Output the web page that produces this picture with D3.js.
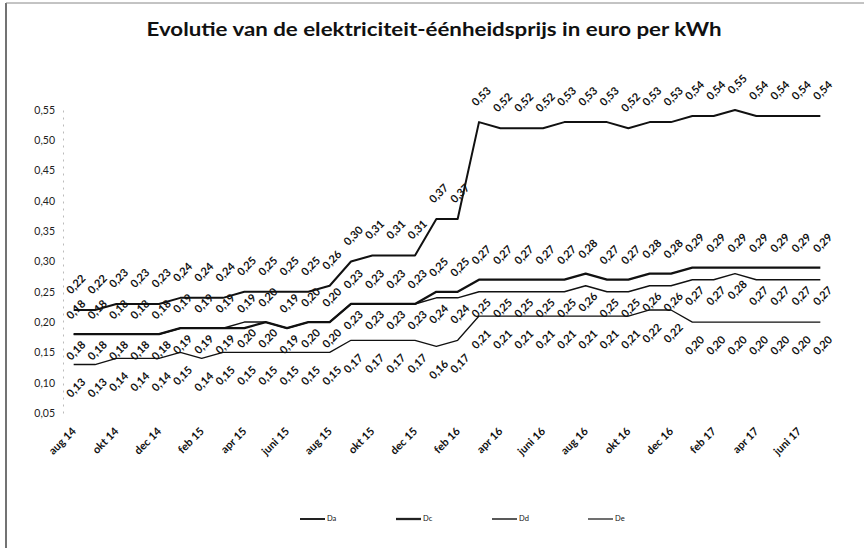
<!DOCTYPE html>
<html lang="nl">
<head>
    <meta charset="UTF-8">
    <title>Evolutie elektriciteit-éénheidsprijs</title>
    <script src="https://d3js.org/d3.v7.min.js"></script>
    <style>
        body { margin: 0; background: #fff; }
        svg { display: block; font-family: Lato, "Liberation Sans", sans-serif; }
    </style>
</head>
<body>
    <svg id="chart" width="864" height="548"></svg>

    <script>
        // months (only every other one gets a label on the axis)
        const months = [
            "aug 14", "sep 14", "okt 14", "nov 14", "dec 14",
            "jan 15", "feb 15", "mrt 15", "apr 15", "mei 15", "juni 15", "juli 15",
            "aug 15", "sep 15", "okt 15", "nov 15", "dec 15",
            "jan 16", "feb 16", "mrt 16", "apr 16", "mei 16", "juni 16", "juli 16",
            "aug 16", "sep 16", "okt 16", "nov 16", "dec 16",
            "jan 17", "feb 17", "mrt 17", "apr 17", "mei 17", "juni 17", "juli 17"
        ];

        const yTicks = [0.05, 0.10, 0.15, 0.20, 0.25, 0.30, 0.35, 0.40, 0.45, 0.50, 0.55];

        const seriesNames = ["Da", "Dc", "Dd", "De"];

        const Da = [0.22, 0.22, 0.23, 0.23, 0.23,
            0.24, 0.24, 0.24, 0.25, 0.25, 0.25, 0.25, 0.26, 0.30, 0.31, 0.31, 0.31,
            0.37, 0.37, 0.53, 0.52, 0.52, 0.52, 0.53, 0.53, 0.53, 0.52, 0.53, 0.53,
            0.54, 0.54, 0.55, 0.54, 0.54, 0.54, 0.54];

        const Dc = [0.18, 0.18, 0.18, 0.18, 0.18,
            0.19, 0.19, 0.19, 0.19, 0.20, 0.19, 0.20, 0.20, 0.23, 0.23, 0.23, 0.23,
            0.25, 0.25, 0.27, 0.27, 0.27, 0.27, 0.27, 0.28, 0.27, 0.27, 0.28, 0.28,
            0.29, 0.29, 0.29, 0.29, 0.29, 0.29, 0.29];

        const Dd = [0.18, 0.18, 0.18, 0.18, 0.18,
            0.19, 0.19, 0.19, 0.20, 0.20, 0.19, 0.20, 0.20, 0.23, 0.23, 0.23, 0.23,
            0.24, 0.24, 0.25, 0.25, 0.25, 0.25, 0.25, 0.26, 0.25, 0.25, 0.26, 0.26,
            0.27, 0.27, 0.28, 0.27, 0.27, 0.27, 0.27];

        const De = [0.13, 0.13, 0.14, 0.14, 0.14,
            0.15, 0.14, 0.15, 0.15, 0.15, 0.15, 0.15, 0.15, 0.17, 0.17, 0.17, 0.17,
            0.16, 0.17, 0.21, 0.21, 0.21, 0.21, 0.21, 0.21, 0.21, 0.21, 0.22, 0.22,
            0.20, 0.20, 0.20, 0.20, 0.20, 0.20, 0.20];

        const seriesValues = [Da, Dc, Dd, De];

        // styling per series: line width and where the value labels sit
        const lineWidths = [2.0, 2.3, 1.5, 1.3];
        const labelOffsets = [-25, -24, 17, 24];

        const svg = d3.select("#chart");

        // outer frame (left and top edge of the scanned page)
        svg.append("line").attr("x1", 6).attr("x2", 6).attr("y1", 3).attr("y2", 548)
            .attr("stroke", "#444").attr("stroke-width", 1.5);
        svg.append("line").attr("x1", 6).attr("x2", 864).attr("y1", 3).attr("y2", 3)
            .attr("stroke", "#888").attr("stroke-width", 1);

        // title
        svg.append("text")
            .attr("x", 434)
            .attr("y", 36)
            .attr("text-anchor", "middle")
            .attr("textLength", 575)
            .attr("lengthAdjust", "spacingAndGlyphs")
            .style("font-size", "19px")
            .style("font-weight", "bold")
            .style("fill", "#111")
            .text("Evolutie van de elektriciteit-éénheidsprijs in euro per kWh");

        let x = d3.scaleBand()
            .domain(months)
            .range([63, 831])
            .padding(0);

        let y = d3.scaleLinear()
            .domain([0.05, 0.55])
            .range([413, 110]);

        const cx = d => x(d) + x.bandwidth() / 2;

        // y axis
        let yAxis = svg.append("g")
            .attr("transform", "translate(63,0)")
            .call(d3.axisLeft(y)
                .tickValues(yTicks)
                .tickSize(0)
                .tickPadding(8)
                .tickFormat(d => d.toFixed(2).replace(".", ",")));
        yAxis.select(".domain").attr("stroke", "#bbb").attr("stroke-dasharray", "2,5");
        yAxis.selectAll("text")
            .style("font-size", "10.5px")
            .style("font-family", "Lato, sans-serif")
            .style("fill", "#222");

        // x axis, every second month
        let xAxis = svg.append("g")
            .attr("transform", "translate(0,413)")
            .call(d3.axisBottom(x)
                .tickValues(months.filter((d, i) => i % 2 === 0))
                .tickSize(0));
        xAxis.select(".domain").remove();
        xAxis.selectAll("text")
            .attr("x", 0)
            .attr("y", 0)
            .attr("dy", null)
            .attr("transform", "translate(3,19) rotate(-45)")
            .style("text-anchor", "end")
            .style("font-size", "11px")
            .style("font-weight", "bold")
            .style("font-family", "Lato, sans-serif")
            .style("fill", "#111");

        // lines
        let line = d3.line()
            .x((d, i) => cx(months[i]))
            .y(d => y(d));

        seriesValues.forEach((values, s) => {
            svg.append("path")
                .datum(values)
                .attr("fill", "none")
                .attr("stroke", "#111")
                .attr("stroke-width", lineWidths[s])
                .attr("stroke-linejoin", "round")
                .attr("d", line);
        });

        // value labels, rotated like in the original
        seriesValues.forEach((values, s) => {
            svg.append("g")
                .selectAll("text")
                .data(values)
                .enter().append("text")
                .attr("transform", (d, i) =>
                    `translate(${cx(months[i]) + 3},${y(d) + labelOffsets[s]}) rotate(-45)`)
                .attr("text-anchor", "middle")
                .attr("dominant-baseline", "middle")
                .style("font-size", "11px")
                .style("font-weight", "bold")
                .style("fill", "#111")
                .text(d => d.toFixed(2).replace(".", ","));
        });

        // legend
        let legend = svg.append("g")
            .selectAll("g")
            .data(seriesNames)
            .enter().append("g")
            .attr("transform", (d, i) => `translate(${300 + i * 96},519)`);

        legend.append("line")
            .attr("x1", 0).attr("x2", 25)
            .attr("y1", 0).attr("y2", 0)
            .attr("stroke", "#222")
            .attr("stroke-width", (d, i) => lineWidths[i]);

        legend.append("text")
            .attr("x", 27)
            .attr("y", 0)
            .attr("dominant-baseline", "middle")
            .style("font-size", "7.5px")
            .style("fill", "#111")
            .text(d => d);
    </script>
</body>
</html>
